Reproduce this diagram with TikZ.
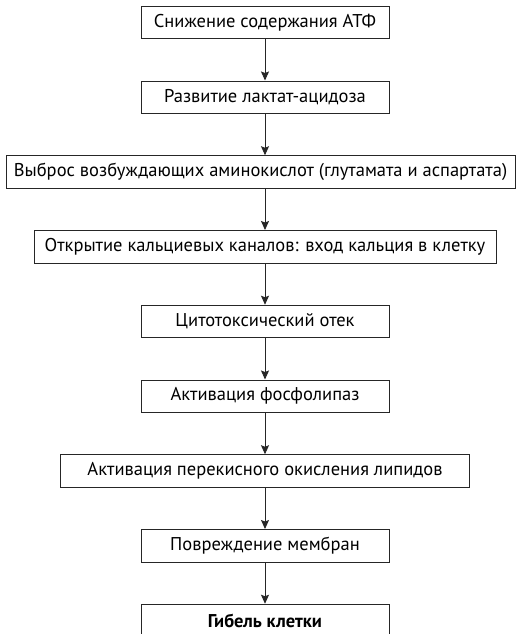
\documentclass[tikz,border=0pt]{standalone}
\usepackage{fontspec}
\setmainfont{PT Sans}
\usetikzlibrary{arrows.meta, positioning}

\begin{document}
\begin{tikzpicture}[node distance=41.25pt,
  every node/.style={text=black, font=\fontsize{18.5}{21}\selectfont},
  arr/.style={-{Stealth[length=9pt, width=8pt, inset=1.5pt]}, line width=0.9pt, draw=black!85},
  stepblock/.style={draw=black!85, line width=1pt, minimum height=32.5pt,
                    inner sep=0pt, align=center},
  narrowblock/.style={stepblock, minimum width=248pt}]

  \useasboundingbox (0,0) rectangle (516pt,-634pt);

  %% ----- chain of events -----
  \node[narrowblock] (atp) at (265pt,-22.5pt) {Снижение содержания АТФ};
  \node[narrowblock, below=of atp] (lact) {Развитие лактат-ацидоза};
  \node[stepblock, minimum width=509pt, below=of lact, xshift=-4.5pt]
      (amino) {Выброс возбуждающих аминокислот (глутамата и аспартата)};
  \node[stepblock, minimum width=462pt, below=of amino, xshift=4.5pt]
      (calc) {Открытие кальциевых каналов: вход кальция в клетку};
  \node[narrowblock, below=of calc] (edema) {Цитотоксический отек};
  \node[narrowblock, below=of edema] (phos) {Активация фосфолипаз};
  \node[stepblock, minimum width=409pt, below=of phos]
      (lipid) {Активация перекисного окисления липидов};
  \node[narrowblock, below=of lipid] (memb) {Повреждение мембран};
  \node[narrowblock, below=of memb] (death) {\textbf{Гибель клетки}};

  %% ----- arrows -----
  \draw[arr] (atp) -- (lact);
  \draw[arr] (lact) -- (lact |- amino.north);
  \draw[arr] (calc |- amino.south) -- (calc);
  \draw[arr] (calc) -- (edema);
  \draw[arr] (edema) -- (phos);
  \draw[arr] (phos) -- (lipid);
  \draw[arr] (lipid) -- (memb);
  \draw[arr] (memb) -- (death);

\end{tikzpicture}
\end{document}
